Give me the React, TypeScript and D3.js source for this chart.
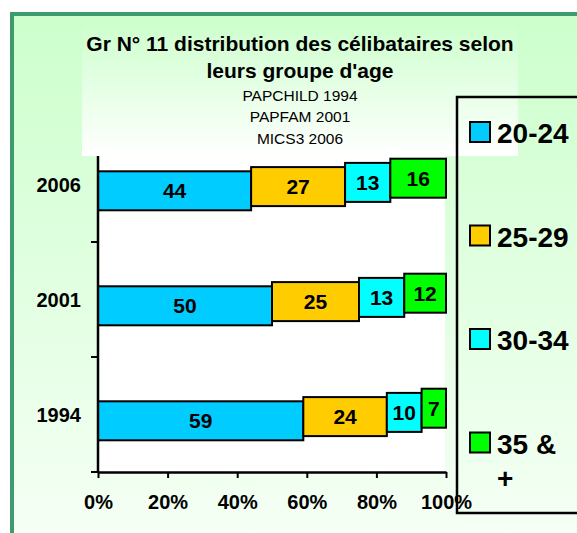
import React, { useEffect, useRef } from 'react';
import * as d3 from 'd3';

// categories (top to bottom) and age groups
const years = ['2006', '2001', '1994'];
const ageGroups = ['20-24', '25-29', '30-34', '35 & +'];
// percentages per age group, in the order of years
const g2024 = [44, 50, 59];
const g2529 = [27, 25, 24];
const g3034 = [13, 13, 10];
const g35plus = [16, 12, 7];
const xTicks = [0, 20, 40, 60, 80, 100];
const colors = ['#00ccff', '#ffcc00', '#00ffff', '#00ff00'];

const titleLines = ['Gr N° 11 distribution des célibataires selon', "leurs groupe d'age"];
const subLines = ['PAPCHILD 1994', 'PAPFAM 2001', 'MICS3 2006'];

const FONT = "'Liberation Sans', Arial, sans-serif";

export default function App() {
  const ref = useRef<SVGSVGElement>(null);

  useEffect(() => {
    const svg = d3.select(ref.current);
    svg.selectAll('*').remove();

    const defs = svg.append('defs');
    const bg = defs.append('linearGradient').attr('id', 'bg').attr('x1', 0).attr('y1', 0).attr('x2', 0).attr('y2', 1);
    bg.append('stop').attr('offset', '0%').attr('stop-color', '#ccffcc');
    bg.append('stop').attr('offset', '100%').attr('stop-color', '#f8fff8');
    const tb = defs.append('linearGradient').attr('id', 'tb').attr('x1', 0).attr('y1', 0).attr('x2', 0).attr('y2', 1);
    tb.append('stop').attr('offset', '0%').attr('stop-color', '#ccffcc');
    tb.append('stop').attr('offset', '100%').attr('stop-color', '#ffffff');

    // frame
    svg.append('rect').attr('x', 12).attr('y', 14).attr('width', 620).attr('height', 560)
      .attr('fill', 'url(#bg)').attr('stroke', '#3d9b6e').attr('stroke-width', 4);

    // title box
    svg.append('rect').attr('x', 82).attr('y', 20).attr('width', 436).attr('height', 136).attr('fill', 'url(#tb)');

    const x = d3.scaleLinear().domain([0, 100]).range([98, 446]);
    const y = d3.scaleBand().domain(years).range([127, 472]).padding(0);

    // plot area
    svg.append('rect').attr('x', x(0)).attr('y', 156).attr('width', x(100) - x(0) - 1).attr('height', 472 - 156).attr('fill', '#ffffff');

    const table = years.map((yr, i) => ({ year: yr, a: g2024[i], b: g2529[i], c: g3034[i], d: g35plus[i] }));
    const series = d3.stack<any>().keys(['a', 'b', 'c', 'd'])(table);

    const barH = 39;
    const shift = 4.2;
    series.forEach((s, si) => {
      const off = (1.5 - si) * shift;
      const g = svg.append('g');
      g.selectAll('rect').data(s).enter().append('rect')
        .attr('x', (d) => x(d[0]))
        .attr('y', (d) => y(d.data.year)! + y.bandwidth() / 2 + off - barH / 2)
        .attr('width', (d) => x(d[1]) - x(d[0]))
        .attr('height', barH)
        .attr('fill', colors[si])
        .attr('stroke', '#000').attr('stroke-width', 2);
      g.selectAll('text').data(s).enter().append('text')
        .attr('x', (d) => (x(d[0]) + x(d[1])) / 2)
        .attr('y', (d) => y(d.data.year)! + y.bandwidth() / 2 + off + 7.5)
        .attr('text-anchor', 'middle')
        .style('font', `bold 21px ${FONT}`)
        .text((d) => d[1] - d[0]);
    });

    // x axis
    const xAxis = d3.axisBottom(x).tickValues(xTicks).tickSize(6).tickSizeOuter(0).tickFormat((d) => `${d}%`);
    const gx = svg.append('g').attr('transform', 'translate(0,472)').call(xAxis);
    gx.select('.domain').attr('stroke', '#000').attr('stroke-width', 2.5);
    gx.selectAll('.tick line').attr('stroke', '#000').attr('stroke-width', 2);
    gx.selectAll('.tick text').attr('y', 37).attr('dy', 0).style('font', `bold 20px ${FONT}`).attr('fill', '#000');

    // y axis: ticks on band edges
    svg.append('line').attr('x1', x(0)).attr('x2', x(0)).attr('y1', 156).attr('y2', 473).attr('stroke', '#000').attr('stroke-width', 2.5);
    const edges = years.slice(1).map((yr) => y(yr)!);
    svg.selectAll('.ytick').data(edges.concat([y.range()[1]])).enter().append('line')
      .attr('x1', x(0) - 7).attr('x2', x(0)).attr('y1', (d) => d).attr('y2', (d) => d)
      .attr('stroke', '#000').attr('stroke-width', 2);
    svg.selectAll('.ylab').data(years).enter().append('text')
      .attr('x', 81).attr('y', (d) => y(d)! + y.bandwidth() / 2 + 7.5)
      .attr('text-anchor', 'end').style('font', `bold 20px ${FONT}`).text((d) => d);

    // title
    svg.selectAll('.title').data(titleLines).enter().append('text')
      .attr('x', 300).attr('y', (d, i) => 51 + i * 27)
      .attr('text-anchor', 'middle').style('font', `bold 21px ${FONT}`).text((d) => d);
    svg.selectAll('.sub').data(subLines).enter().append('text')
      .attr('x', 300).attr('y', (d, i) => [101, 122, 144][i])
      .attr('text-anchor', 'middle').style('font', `15.5px ${FONT}`).text((d) => d);

    // legend
    svg.append('rect').attr('x', 457).attr('y', 97).attr('width', 200).attr('height', 416)
      .attr('fill', 'none').attr('stroke', '#000').attr('stroke-width', 2.5);
    const lg = svg.selectAll('.leg').data(ageGroups).enter().append('g')
      .attr('transform', (d, i) => `translate(470,${122 + i * 103.5})`);
    lg.append('rect').attr('width', 20).attr('height', 20).attr('fill', (d, i) => colors[i])
      .attr('stroke', '#000').attr('stroke-width', 2);
    lg.append('text').attr('x', 27).attr('y', 21).style('font', `bold 28px ${FONT}`)
      .each(function (d) {
        const parts = d === '35 & +' ? ['35 &', '+'] : [d];
        parts.forEach((p, k) => {
          d3.select(this).append('tspan').attr('x', 27).attr('dy', k === 0 ? 0 : 34).text(p);
        });
      });
  }, []);

  return (
    <svg ref={ref} width={577} height={533}
      style={{ position: 'absolute', left: 0, top: 0, background: '#fff' }} />
  );
}
